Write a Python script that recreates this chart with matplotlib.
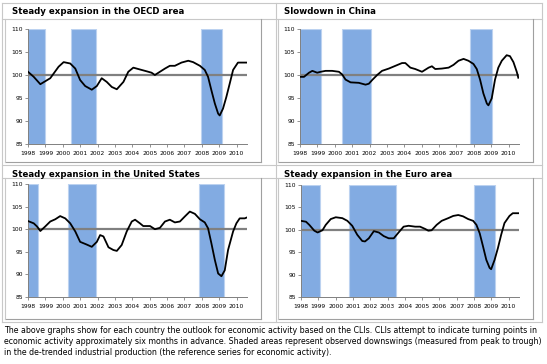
import matplotlib
matplotlib.use("Agg")
import matplotlib.pyplot as plt
from matplotlib.lines import Line2D

W, H = 547, 364

# ---- data (year, CLI value) ----
oecd_x = [1998.0, 1998.33, 1998.71, 1999.28, 1999.76, 2000.05, 2000.43, 2000.72, 2001.0, 2001.29,
          2001.67, 2001.96, 2002.24, 2002.53, 2002.82, 2003.11, 2003.49, 2003.77, 2004.06, 2004.44,
          2004.83, 2005.11, 2005.3, 2005.59, 2005.88, 2006.16, 2006.45, 2006.83, 2007.22, 2007.5,
          2007.89, 2008.17, 2008.36, 2008.55, 2008.75, 2008.94, 2009.03, 2009.22, 2009.41, 2009.61,
          2009.8, 2010.08, 2010.56]
oecd_y = [100.7, 99.6, 98.0, 99.3, 101.8, 102.8, 102.5, 101.4, 98.9, 97.6,
          96.8, 97.6, 99.3, 98.5, 97.4, 96.9, 98.5, 100.7, 101.6, 101.2,
          100.8, 100.5, 100.0, 100.7, 101.4, 102.0, 102.0, 102.7, 103.1, 102.8,
          102.0, 101.1, 99.6, 96.7, 93.8, 91.6, 91.2, 92.7, 95.2, 98.2,
          101.1, 102.7, 102.7]

china_x = [1998.04, 1998.23, 1998.52, 1998.71, 1998.99, 1999.19, 1999.47, 1999.85, 2000.24, 2000.43,
           2000.62, 2000.91, 2001.38, 2001.77, 2001.96, 2002.15, 2002.44, 2002.72, 2003.11, 2003.49,
           2003.87, 2004.06, 2004.35, 2004.63, 2005.02, 2005.4, 2005.59, 2005.78, 2006.16, 2006.55,
           2006.83, 2007.12, 2007.41, 2007.69, 2007.98, 2008.17, 2008.36, 2008.55, 2008.75, 2008.84,
           2009.03, 2009.22, 2009.41, 2009.61, 2009.89, 2010.08, 2010.28, 2010.47, 2010.56]
china_y = [99.6, 99.6, 100.5, 100.9, 100.5, 100.7, 100.9, 100.9, 100.7, 100.1,
           99.0, 98.4, 98.3, 97.9, 98.1, 98.9, 100.0, 100.9, 101.4, 102.0,
           102.6, 102.6, 101.6, 101.3, 100.7, 101.6, 101.9, 101.3, 101.4, 101.6,
           102.2, 103.1, 103.5, 103.1, 102.4, 101.3, 99.0, 96.0, 93.8, 93.4,
           94.9, 99.0, 101.6, 103.1, 104.3, 104.1, 102.8, 100.7, 99.4]

us_x = [1998.0, 1998.33, 1998.52, 1998.71, 1998.99, 1999.28, 1999.57, 1999.85, 2000.14, 2000.43,
        2000.72, 2001.0, 2001.38, 2001.67, 2001.96, 2002.15, 2002.34, 2002.63, 2002.91, 2003.11,
        2003.39, 2003.68, 2003.97, 2004.16, 2004.44, 2004.63, 2005.02, 2005.3, 2005.59, 2005.88,
        2006.16, 2006.45, 2006.74, 2007.02, 2007.31, 2007.6, 2007.89, 2008.17, 2008.36, 2008.55,
        2008.75, 2008.94, 2009.13, 2009.32, 2009.51, 2009.8, 2009.99, 2010.18, 2010.47, 2010.6]
us_y = [101.8, 101.3, 100.6, 99.6, 100.6, 101.7, 102.2, 102.9, 102.4, 101.3,
        99.5, 97.2, 96.6, 96.1, 97.2, 98.7, 98.4, 96.0, 95.4, 95.2,
        96.5, 99.5, 101.7, 102.1, 101.3, 100.7, 100.7, 100.0, 100.3, 101.7,
        102.1, 101.5, 101.7, 102.8, 103.9, 103.4, 102.2, 101.5, 100.2, 96.9,
        93.2, 90.2, 89.6, 90.9, 95.4, 99.5, 101.3, 102.4, 102.4, 102.6]

euro_x = [1998.0, 1998.29, 1998.48, 1998.77, 1998.96, 1999.24, 1999.43, 1999.72, 2000.01, 2000.39,
          2000.68, 2000.96, 2001.25, 2001.54, 2001.7, 2001.92, 2002.21, 2002.5, 2002.78, 2003.07,
          2003.36, 2003.64, 2003.93, 2004.22, 2004.6, 2004.88, 2005.17, 2005.36, 2005.55, 2005.84,
          2006.13, 2006.51, 2006.8, 2007.09, 2007.37, 2007.66, 2007.95, 2008.14, 2008.33, 2008.52,
          2008.71, 2008.9, 2008.99, 2009.19, 2009.38, 2009.57, 2009.76, 2010.05, 2010.24, 2010.56]
euro_y = [102.0, 101.8, 101.1, 99.8, 99.4, 99.9, 101.1, 102.4, 102.8, 102.6,
          102.0, 100.9, 98.9, 97.5, 97.4, 98.1, 99.7, 99.4, 98.6, 98.1,
          98.1, 99.4, 100.7, 100.9, 100.7, 100.7, 100.2, 99.8, 99.9, 101.1,
          102.0, 102.6, 103.1, 103.3, 103.0, 102.4, 102.0, 101.1, 99.2, 96.3,
          93.3, 91.5, 91.2, 93.3, 95.9, 98.9, 101.5, 103.1, 103.7, 103.7]

# downswing periods (start, end) in years
oecd_shade = [(1998.0, 1999.0), (2000.5, 2001.93), (2007.95, 2009.18)]
china_shade = [(1998.0, 1999.2), (2000.4, 2002.06), (2007.8, 2009.05)]
us_shade = [(1998.0, 1998.6), (2000.3, 2001.93), (2007.84, 2009.27)]
euro_shade = [(1998.0, 1999.1), (2000.8, 2003.5), (2007.98, 2009.2)]

titles = ["Steady expansion in the OECD area", "Slowdown in China",
          "Steady expansion in the United States", "Steady expansion in the Euro area"]
years = list(range(1998, 2011))
yticks = [85, 90, 95, 100, 105, 110]

caption = ("The above graphs show for each country the outlook for economic activity based on the CLIs. "
           "CLIs attempt to indicate turning points in\n"
           "economic activity approximately six months in advance. Shaded areas represent observed "
           "downswings (measured from peak to trough)\n"
           "in the de-trended industrial production (the reference series for economic activity).")

BLUE = "#82abe2"
LIGHT = "#c8c8c8"
DARK = "#a0a0a0"

fig = plt.figure(figsize=(W / 100, H / 100), dpi=100)
fig.patch.set_facecolor("white")


def fx(x):
    return x / W


def fy(y):
    return 1 - y / H


def hline(x0, x1, y, c):
    fig.add_artist(Line2D([fx(x0), fx(x1)], [fy(y), fy(y)], color=c, lw=0.8,
                          transform=fig.transFigure))


def vline(x, y0, y1, c):
    fig.add_artist(Line2D([fx(x), fx(x)], [fy(y0), fy(y1)], color=c, lw=0.8,
                          transform=fig.transFigure))


# table grid
hline(2, 542, 3, LIGHT)
hline(2, 542, 165, LIGHT)
hline(2, 542, 322, LIGHT)
vline(2, 3, 322, LIGHT)
vline(276, 3, 322, LIGHT)
vline(542, 3, 322, LIGHT)
for top in (19, 178):
    hline(2, 542, top, LIGHT)

# chart boxes
for (l, r) in ((5, 261), (278, 533)):
    for (t, b) in ((19, 162), (178, 319)):
        vline(r, t, b, DARK)
        hline(l, r, b, DARK)
        vline(l, t, b, LIGHT)

panels = [
    (oecd_x, oecd_y, oecd_shade, (28, 29, 247, 144), (12, 11)),
    (china_x, china_y, china_shade, (300, 29, 519, 144), (284, 11)),
    (us_x, us_y, us_shade, (28, 184, 247, 297), (12, 174)),
    (euro_x, euro_y, euro_shade, (301, 185, 519, 297), (284, 174)),
]

for (xs, ys, shades, box, tpos), title in zip(panels, titles):
    l, t, r, b = box
    ax = fig.add_axes([fx(l), fy(b), (r - l) / W, (b - t) / H])
    for s, e in shades:
        ax.axvspan(s, e, facecolor=BLUE, edgecolor="#bcd2f0", lw=0.8, zorder=1)
    ax.axhline(100, color="#808080", lw=1.6, zorder=2)
    ax.plot(xs, ys, color="black", lw=1.3, zorder=3)
    ax.set_xlim(1998.0, 2010.6)
    ax.set_ylim(85, 110)
    ax.set_yticks(yticks)
    ax.set_xticks(years)
    ax.set_xticklabels([str(v) for v in years])
    ax.tick_params(axis="both", labelsize=4.3, length=2, width=0.6, color="#808080", pad=1.5)
    ax.tick_params(axis="x", pad=3)
    for sp in ("top", "right"):
        ax.spines[sp].set_visible(False)
    for sp in ("left", "bottom"):
        ax.spines[sp].set_color("#808080")
        ax.spines[sp].set_linewidth(0.7)
    fig.text(fx(tpos[0]), fy(tpos[1]), title, fontsize=6.2, fontweight="bold",
             va="center", ha="left")

fig.text(fx(4), fy(326), caption, fontsize=5.68, va="top", ha="left", linespacing=1.3)

fig.savefig("out.png", dpi=100)
